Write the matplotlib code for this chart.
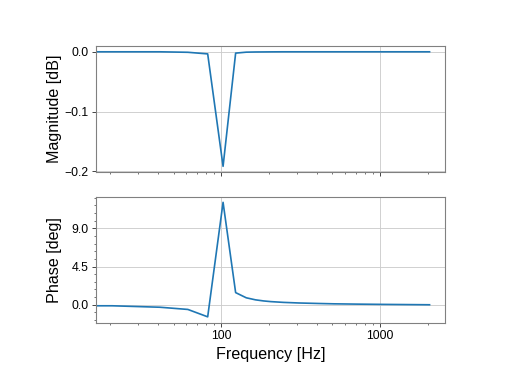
import numpy as np
import matplotlib
matplotlib.use("Agg")
import matplotlib.pyplot as plt
from matplotlib.ticker import MultipleLocator, AutoMinorLocator, FuncFormatter, LogLocator

# notch response (frequencies in Hz, 0 Hz is clipped by the log axis)
freq = [0.0, 20.48, 40.96, 61.44, 81.92, 102.4, 122.88, 143.36, 163.84, 184.32,
        204.8, 245.76, 307.2, 409.6, 512.0, 716.8, 1024.0, 1433.6, 2048.0]
mag_db = [0.0, 0.0, 0.0, -0.0008, -0.0035, -0.1915, -0.0022, -0.0006, -0.0003, -0.0002,
          -0.0001, 0.0, 0.0, 0.0, 0.0, 0.0, 0.0, 0.0, 0.0]
phase_deg = [0.0, -0.12, -0.29, -0.55, -1.42, 12.05, 1.43, 0.82, 0.58, 0.45,
             0.37, 0.28, 0.21, 0.15, 0.11, 0.075, 0.045, 0.023, 0.0]

plt.rcParams["font.family"] = ["Liberation Sans", "DejaVu Sans"]

LINE = "#1f77b4"
SPINE = "#808080"
GRID = "#cccccc"


def fmt_y(v, pos):
    return f"{v:.1f}".replace("-", "\u2212")


def style_axes(ax):
    ax.set_xscale("log")
    ax.grid(True, which="major", color=GRID, linewidth=0.8)
    ax.set_axisbelow(True)
    for spine in ax.spines.values():
        spine.set_color(SPINE)
        spine.set_linewidth(1.0)
    ax.tick_params(which="both", direction="out", labelsize=11, color="#333333")
    ax.tick_params(which="major", length=3.5, width=0.8)
    ax.tick_params(which="minor", length=2.0, width=0.6)
    ax.xaxis.set_major_locator(LogLocator(base=10))
    ax.xaxis.set_minor_locator(LogLocator(base=10, subs=np.arange(2, 10)))


fig = plt.figure(figsize=(6.4, 4.8), dpi=80)
ax1 = fig.add_axes([0.188, 0.552, 0.682, 0.328])
ax2 = fig.add_axes([0.188, 0.160, 0.682, 0.328], sharex=ax1)

ax1.plot(freq, mag_db, color=LINE, linewidth=1.5)
ax2.plot(freq, phase_deg, color=LINE, linewidth=1.5)

style_axes(ax1)
style_axes(ax2)

ax1.set_ylabel("Magnitude [dB]", fontsize=14.5)
ax1.yaxis.set_major_locator(MultipleLocator(0.1))
ax1.yaxis.set_major_formatter(FuncFormatter(fmt_y))
ax1.tick_params(axis="x", labelbottom=False)

ax2.set_ylabel("Phase [deg]", fontsize=14.5)
ax2.set_xlabel("Frequency [Hz]", fontsize=14.5)
ax2.yaxis.set_major_locator(MultipleLocator(4.5))
ax2.yaxis.set_minor_locator(AutoMinorLocator(5))
ax2.yaxis.set_major_formatter(FuncFormatter(fmt_y))
ax2.xaxis.set_major_formatter(FuncFormatter(lambda v, p: f"{v:g}"))

ax1.yaxis.set_label_coords(-0.098, 0.5)
ax2.yaxis.set_label_coords(-0.098, 0.5)

fig.savefig("out.png", dpi=80)
